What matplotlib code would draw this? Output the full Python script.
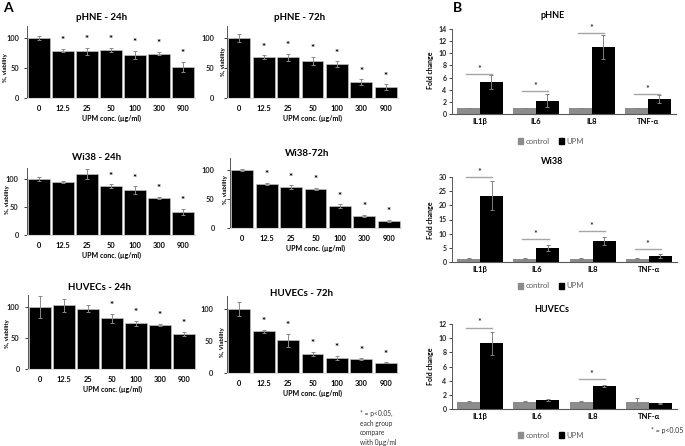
import numpy as np
import matplotlib
matplotlib.use("Agg")
import matplotlib.pyplot as plt
from matplotlib.patches import Patch

plt.rcParams['font.family'] = ['Lato', 'DejaVu Sans']

# ---------------- data ----------------
conc_labels = ["0", "12.5", "25", "50", "100", "300", "900"]

phne24_vals = [100, 79, 78, 80, 72, 74, 52]
phne24_errs = [4, 3, 6, 4, 7, 3, 8]
phne24_star = [0, 1, 1, 1, 1, 1, 1]

phne72_vals = [100, 68, 68, 62, 56, 26, 18]
phne72_errs = [6, 3, 6, 7, 5, 5, 5]
phne72_star = [0, 1, 1, 1, 1, 1, 1]

wi24_vals = [100, 95, 110, 88, 80, 66, 41]
wi24_errs = [3, 2, 9, 3, 7, 2, 6]
wi24_star = [0, 0, 0, 1, 1, 1, 1]

wi72_vals = [100, 76, 70, 67, 38, 21, 12]
wi72_errs = [2, 2, 3, 2, 3, 2, 2]
wi72_star = [0, 1, 1, 1, 1, 1, 1]

huv24_vals = [100, 103, 98, 82, 74, 71, 57]
huv24_errs = [18, 10, 6, 8, 4, 2, 3]
huv24_star = [0, 0, 0, 1, 1, 1, 1]

huv72_vals = [100, 65, 51, 30, 24, 22, 16]
huv72_errs = [11, 2, 10, 3, 3, 1, 1]
huv72_star = [0, 1, 1, 1, 1, 1, 1]

genes = ["IL1\u03b2", "IL6", "IL8", "TNF-\u03b1"]

b_phne_ctrl = [1.0, 1.0, 1.0, 1.0]
b_phne_ctrl_err = [0.05, 0.05, 0.05, 0.05]
b_phne_upm = [5.25, 2.2, 11.0, 2.5]
b_phne_upm_err = [1.15, 1.05, 2.0, 0.7]
b_phne_sig = [6.6, 3.85, 13.3, 3.3]

b_wi_ctrl = [1.0, 1.0, 1.0, 1.0]
b_wi_ctrl_err = [0.25, 0.25, 0.25, 0.25]
b_wi_upm = [23.4, 4.9, 7.4, 2.1]
b_wi_upm_err = [5.1, 1.0, 1.4, 0.6]
b_wi_sig = [30.0, 8.1, 11.0, 4.6]

b_huv_ctrl = [1.0, 1.0, 1.0, 1.0]
b_huv_ctrl_err = [0.12, 0.06, 0.06, 0.5]
b_huv_upm = [9.25, 1.32, 3.25, 0.8]
b_huv_upm_err = [1.6, 0.15, 0.12, 0.1]
b_huv_sig = [11.5, None, 4.2, None]

# ---------------- figure ----------------
W, H = 685, 446
fig = plt.figure(figsize=(W / 100, H / 100), dpi=100)


def add_ax(left, right, top, bottom):
    return fig.add_axes([left / W, 1 - bottom / H, (right - left) / W, (bottom - top) / H])


def ftext(x, y, s, **kw):
    fig.text(x / W, 1 - y / H, s, **kw)


def panel_a(box, vals, errs, stars, title, tpos, ylabel, ypos, ypad):
    ax = add_ax(*box)
    x = np.arange(len(vals))
    ax.bar(x, vals, width=0.9, color="black", edgecolor="#d0d0d0", linewidth=0.4)
    ax.errorbar(x, vals, yerr=errs, fmt="none", ecolor="#8a8a8a", elinewidth=0.7,
                capsize=1.6, capthick=0.7)
    for xi, v, e, s in zip(x, vals, errs, stars):
        if s:
            ax.annotate("*", (xi, v + e), xytext=(0, 4), textcoords="offset points",
                        ha="center", va="baseline", fontsize=7, fontweight="bold")
    ax.set_xlim(-0.5, len(vals) - 0.5)
    ax.set_ylim(0, 120)
    ax.set_yticks([0, 50, 100])
    ax.set_xticks(x)
    ax.set_xticklabels(conc_labels, fontsize=5.3, fontweight="bold")
    ax.tick_params(axis="x", length=0, pad=5)
    ax.tick_params(axis="y", length=2, width=0.6, pad=ypad, labelsize=5.3, colors="#222222")
    for t in ax.get_yticklabels():
        t.set_fontweight("bold")
    ax.spines["top"].set_visible(False)
    ax.spines["right"].set_visible(False)
    ax.spines["bottom"].set_color("#d9d9d9")
    ax.spines["left"].set_color("#555555")
    ax.spines["left"].set_linewidth(0.7)
    ax.set_xlabel("UPM conc. (\u00b5g/ml)", fontsize=5, fontweight="bold", labelpad=2)
    ftext(*tpos, title, ha="center", va="center", fontsize=7, fontweight="bold")
    ftext(*ypos, ylabel, ha="center", va="center", rotation=90, fontsize=4.3,
          fontweight="bold")
    return ax


panel_a((27, 195, 26, 98), phne24_vals, phne24_errs, phne24_star, "pHNE - 24h", (102, 18),
        "%, viability", (6, 68), 3.5)
panel_a((227, 398, 26, 98), phne72_vals, phne72_errs, phne72_star, "pHNE - 72h", (300, 18),
        "%, viability", (223, 62), 7)
panel_a((27, 195, 168, 235), wi24_vals, wi24_errs, wi24_star, "Wi38 - 24h", (97, 158),
        "%, viability", (7, 200), 4)
panel_a((230, 401, 158, 228), wi72_vals, wi72_errs, wi72_star, "Wi38-72h", (307, 154),
        "%, viability", (225, 190), 9)
panel_a((28, 196, 295, 369), huv24_vals, huv24_errs, huv24_star, "HUVECs - 24h", (100, 288),
        "%, viability", (8, 334), 4)
panel_a((227, 398, 296, 373), huv72_vals, huv72_errs, huv72_star, "HUVECs - 72h", (302, 293),
        "%, Viability", (222, 342), 8)

ftext(360, 428, "* = p<0.05,\neach group\ncompare\nwith 0\u00b5g/ml", ha="left", va="center",
      fontsize=4.8, color="#333333", linespacing=1.45)


def panel_b(box, ctrl, ctrl_e, upm, upm_e, sig, ymax, ystep, title, tpos, ylabpos, legy):
    ax = add_ax(*box)
    x = np.arange(len(genes))
    w = 0.41
    ax.bar(x - w / 2, ctrl, width=w, color="#8c8c8c")
    ax.bar(x + w / 2, upm, width=w, color="black")
    ax.errorbar(x - w / 2, ctrl, yerr=ctrl_e, fmt="none", ecolor="#808080", elinewidth=0.7,
                capsize=1.6, capthick=0.7)
    ax.errorbar(x + w / 2, upm, yerr=upm_e, fmt="none", ecolor="#808080", elinewidth=0.7,
                capsize=1.6, capthick=0.7)
    for xi, s in zip(x, sig):
        if s is not None:
            ax.plot([xi - 0.25, xi + 0.22], [s, s], color="#a6a6a6", lw=1.0, clip_on=False)
            ax.annotate("*", (xi - 0.02, s), xytext=(0, 1.5), textcoords="offset points",
                        ha="center", va="baseline", fontsize=6.5, annotation_clip=False)
    ax.set_xlim(-0.5, len(genes) - 0.5)
    ax.set_ylim(0, ymax)
    ax.set_yticks(np.arange(0, ymax + 0.1, ystep))
    ax.set_xticks(x)
    ax.set_xticklabels(genes, fontsize=5.5, fontweight="bold")
    ax.tick_params(axis="x", length=0, pad=3)
    ax.tick_params(axis="y", length=2, width=0.6, pad=2, labelsize=5, colors="#222222")
    for t in ax.get_yticklabels():
        t.set_fontweight("bold")
    ax.spines["top"].set_visible(False)
    ax.spines["right"].set_visible(False)
    ax.spines["bottom"].set_color("#595959")
    ax.spines["left"].set_color("#595959")
    ax.spines["left"].set_linewidth(0.7)
    ftext(*tpos, title, ha="center", va="center", fontsize=6.5, fontweight="bold")
    ftext(*ylabpos, "Fold change", ha="center", va="center", rotation=90, fontsize=5,
          fontweight="bold")
    handles = [Patch(color="#8c8c8c", label="control"), Patch(color="black", label="UPM")]
    fig.legend(handles=handles, loc="center", bbox_to_anchor=(551 / W, 1 - legy / H),
               ncol=2, frameon=False, fontsize=5.5, handlelength=0.7, handleheight=0.7,
               handletextpad=0.3, columnspacing=1.2, labelcolor="#595959")
    return ax


panel_b((452, 676, 29, 114), b_phne_ctrl, b_phne_ctrl_err, b_phne_upm, b_phne_upm_err,
        b_phne_sig, 14, 2, "pHNE", (553, 15), (430, 70), 141)
panel_b((452, 677, 177, 262), b_wi_ctrl, b_wi_ctrl_err, b_wi_upm, b_wi_upm_err,
        b_wi_sig, 30, 5, "Wi38", (552, 162), (430, 220), 286)
panel_b((452, 677, 324, 409), b_huv_ctrl, b_huv_ctrl_err, b_huv_upm, b_huv_upm_err,
        b_huv_sig, 12, 2, "HUVECs", (552, 310), (430, 366), 435)

ftext(683, 431, "* = p<0.05", ha="right", va="center", fontsize=5, color="#333333")

ftext(8, 8, "A", ha="center", va="center", fontsize=10, fontweight="bold")
ftext(458, 8, "B", ha="center", va="center", fontsize=10, fontweight="bold")

fig.savefig("out.png", dpi=100)
